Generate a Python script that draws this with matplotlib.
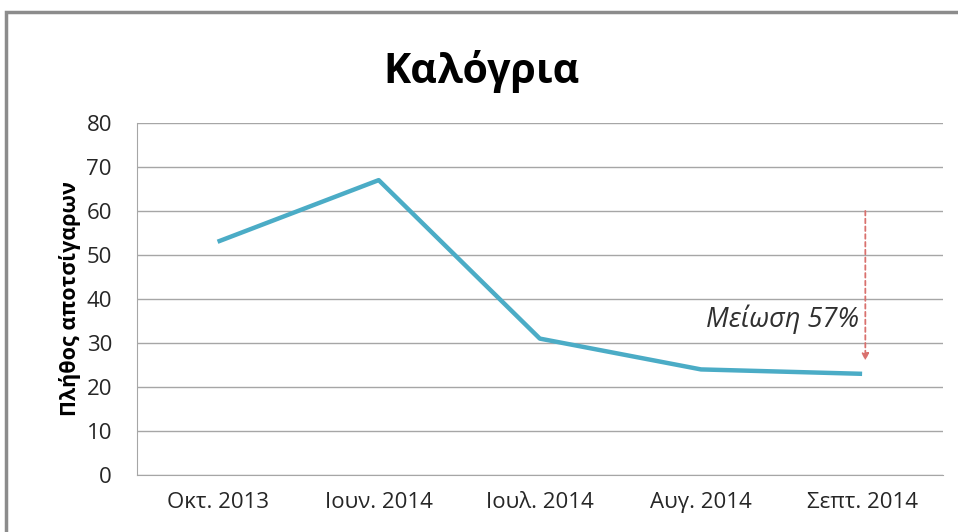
import matplotlib.pyplot as plt
from matplotlib.patches import Rectangle

# Data
months = ["Οκτ. 2013", "Ιουν. 2014", "Ιουλ. 2014", "Αυγ. 2014", "Σεπτ. 2014"]
counts = [53, 67, 31, 24, 23]
arrow_from = 60
arrow_to = 26
note = "Μείωση 57%"

plt.rcParams['font.family'] = ['Open Sans', 'DejaVu Sans']

fig = plt.figure(figsize=(9.58, 5.32), dpi=100)
ax = fig.add_axes([0.143, 0.107, 0.841, 0.662])

# outer chart frame (cut off on right and bottom as in the reference)
fig.patches.append(Rectangle((6 / 958, -0.05), 1.1, 1 - 12 / 532 + 0.05,
                             transform=fig.transFigure, fill=False,
                             edgecolor="#8c8c8c", linewidth=2.5))

x = range(len(months))
ax.plot(x, counts, color="#4bacc6", linewidth=3.2, solid_capstyle='butt')

# reduction arrow
ax.annotate("", xy=(4.02, arrow_to), xytext=(4.02, arrow_from),
            arrowprops=dict(arrowstyle="-|>", color="#d9716e", linestyle=(0, (2.5, 1.8)),
                            linewidth=1.3, mutation_scale=10, shrinkA=0, shrinkB=0))
ax.text(3.98, 35.5, note, ha='right', va='center', fontsize=19.5,
        fontstyle='italic', color="#303030")

ax.set_xlim(-0.5, 4.5)
ax.set_ylim(0, 80)
ax.set_yticks(range(0, 81, 10))
ax.set_xticks(list(x))
ax.set_xticklabels(months)
ax.tick_params(axis='both', labelsize=16, length=0, colors="#262626")
ax.tick_params(axis='y', pad=18)
ax.tick_params(axis='x', pad=12)
ax.grid(axis='y', color="#a6a6a6", linewidth=1)
ax.set_axisbelow(True)
for s in ['top', 'right']:
    ax.spines[s].set_visible(False)
for s in ['left', 'bottom']:
    ax.spines[s].set_color("#a6a6a6")

ax.set_ylabel("Πλήθος αποτσίγαρων", fontsize=15.5, fontweight='bold', labelpad=4)
fig.text(0.503, 0.865, "Καλόγρια", ha='center', va='center', fontsize=29.5, fontweight='bold')

fig.savefig("out.png", dpi=100)
